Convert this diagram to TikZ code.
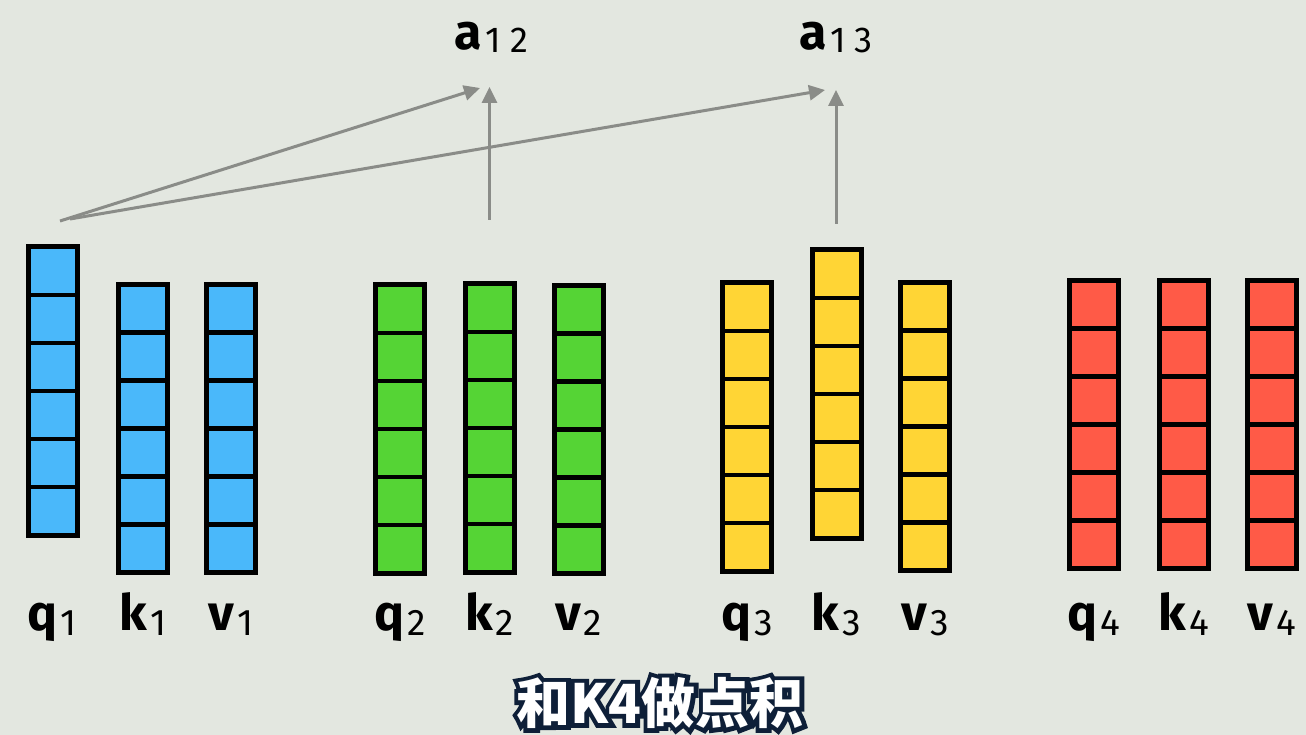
\documentclass[tikz,border=0pt]{standalone}
\usepackage{fontspec}
\usetikzlibrary{arrows.meta,calc}
\setmainfont{Fira Sans}
\newfontfamily\cjk{Noto Sans CJK SC}
\newfontfamily\cjkout{Noto Sans CJK SC}[FakeBold=16]
\definecolor{bg}{HTML}{E3E7E0}
\definecolor{cblue}{HTML}{4AB8FA}
\definecolor{cgreen}{HTML}{55D435}
\definecolor{cyellow}{HTML}{FFD535}
\definecolor{cred}{HTML}{FF5A47}
\definecolor{arr}{HTML}{8A8C88}
\definecolor{navy}{HTML}{0E1F38}
\newcommand\lblsub[2]{{\bfseries\fontsize{50}{50}\selectfont #1}\kern3pt{\mdseries\fontsize{37}{37}\selectfont\raisebox{-5pt}{#2}}}
\newcommand\qkvcol[4]{%
  \node[col,fill=#4] (#1) at (#2,#3) {};
  \foreach \i in {1,...,5}
    \draw[div] ($(#1.north west)!\i/6!(#1.south west)$) -- ($(#1.north east)!\i/6!(#1.south east)$);
}
\begin{document}
\begin{tikzpicture}[x=1pt,y=-1pt,
  col/.style={draw=black,line width=5pt,outer sep=0pt,inner sep=0pt,minimum width=49pt,minimum height=288pt},
  div/.style={line width=4.5pt},
  lbl/.style={anchor=base,inner sep=0pt},
  conn/.style={draw=arr,line width=3pt,-{Triangle[length=16pt,width=15pt]}},
  capo/.style={text=navy,font=\cjkout\bfseries\fontsize{54}{54}\selectfont,inner sep=0pt},
  capw/.style={text=white,font=\cjk\bfseries\fontsize{54}{54}\selectfont,inner sep=0pt}]
\fill[bg] (0,0) rectangle (1306,735);
\useasboundingbox (0,0) rectangle (1306,735);
% columns
\qkvcol{q1}{52.5}{391}{cblue}
\qkvcol{k1}{143}{428.5}{cblue}
\qkvcol{v1}{231}{428.5}{cblue}
\qkvcol{q2}{400}{429}{cgreen}
\qkvcol{k2}{489.5}{428}{cgreen}
\qkvcol{v2}{578.5}{429.5}{cgreen}
\qkvcol{q3}{747}{427}{cyellow}
\qkvcol{k3}{836.5}{394}{cyellow}
\qkvcol{v3}{925}{426.5}{cyellow}
\qkvcol{q4}{1094}{424.5}{cred}
\qkvcol{k4}{1184}{424.5}{cred}
\qkvcol{v4}{1272}{424.5}{cred}
% labels
\coordinate (lblrow) at (0,630);
\foreach \n/\l/\d in {q1/q/1,k1/k/1,v1/v/1,q2/q/2,k2/k/2,v2/v/2,q3/q/3,k3/k/3,v3/v/3,q4/q/4,k4/k/4,v4/v/4}
  \node[lbl] (l\n) at (\n.south |- lblrow) {\lblsub{\l}{\d}};
% results
\node[lbl] (a12) at (491,50) {{\bfseries\fontsize{50}{50}\selectfont a}\kern4pt{\mdseries\fontsize{36}{36}\selectfont\raisebox{-3pt}{1\kern9pt2}}};
\node[lbl] (a13) at (836,50) {{\bfseries\fontsize{50}{50}\selectfont a}\kern4pt{\mdseries\fontsize{36}{36}\selectfont\raisebox{-3pt}{1\kern9pt3}}};
% connector ends
\coordinate (qa) at (60,221);
\coordinate (qb) at (70,219);
\coordinate (k2o) at (489.5,220);
\coordinate (k3o) at (836,224);
\coordinate (a12l) at (480,88);
\coordinate (a12b) at (489.5,87);
\coordinate (a13l) at (825,90);
\coordinate (a13b) at (836,90);
\draw[conn] (qa) -- (a12l);
\draw[conn] (qb) -- (a13l);
\draw[conn] (k2o) -- (a12b);
\draw[conn] (k3o) -- (a13b);
% caption
\coordinate (cap) at (660,703);
\node[capo] (capo) at (cap) {和K4做点积};
\node[capw] (capt) at (cap) {和K4做点积};
\end{tikzpicture}
\end{document}
